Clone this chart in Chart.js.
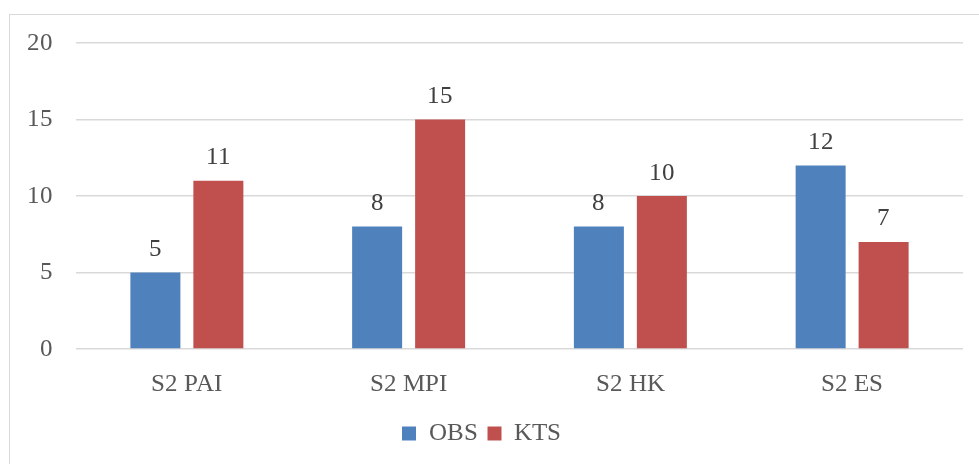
<!DOCTYPE html>
<html><head><meta charset="utf-8">
<style>
@font-face { font-family: 'ChartSerif'; src: local('Liberation Serif'), local('LiberationSerif'), local('Liberation Serif Regular'), local('LiberationSerif-Regular'), local('Times New Roman'); font-weight: 400; font-style: normal; }
html,body{margin:0;padding:0;background:#fff;}
#wrap{position:relative;width:979px;height:464px;}
#frame{position:absolute;left:9px;top:14px;width:990px;height:480px;border:1.5px solid #d9d9d9;box-sizing:border-box;pointer-events:none;}
canvas{position:absolute;left:0;top:0;}
#fontwarm{position:absolute;left:300px;top:20px;font:25px ChartSerif, 'Liberation Serif';color:#fff;}
</style>
<script src="https://cdn.jsdelivr.net/npm/chart.js@4/dist/chart.umd.min.js"></script>
</head>
<body>
<div id="wrap"><div id="fontwarm">S2 PAI OBS KTS 0123456789</div><canvas id="c" width="979" height="464"></canvas><div id="frame"></div></div>
<script>
const categories = ["S2 PAI", "S2 MPI", "S2 HK", "S2 ES"];
const obsValues = [5, 8, 8, 12];
const ktsValues = [11, 15, 10, 7];
const yTicks = [0, 5, 10, 15, 20];

const FONT = "ChartSerif, 'Liberation Serif', serif";
const FS = 25;
Chart.defaults.font.family = FONT;
Chart.defaults.font.size = FS;

const labelPlugin = {
  id: 'barLabels',
  afterDatasetsDraw(chart) {
    const ctx = chart.ctx;
    ctx.save();
    ctx.font = FS + "px " + FONT;
    ctx.fillStyle = "#404040";
    ctx.textAlign = "center";
    ctx.textBaseline = "middle";
    chart.data.datasets.forEach((ds, i) => {
      chart.getDatasetMeta(i).data.forEach((bar, j) => {
        ctx.fillText(String(ds.data[j]), bar.x, bar.y - 23);
      });
    });
    ctx.restore();
  }
};

let chart = null;
function draw() {
  if (chart) { chart.update('none'); return; }
  chart = new Chart(document.getElementById('c'), {
    type: 'bar',
    data: {
      labels: categories,
      datasets: [
        { label: 'OBS', data: obsValues, backgroundColor: '#4F81BD', categoryPercentage: 0.568, barPercentage: 0.794 },
        { label: 'KTS', data: ktsValues, backgroundColor: '#C0504D', categoryPercentage: 0.568, barPercentage: 0.794 }
      ]
    },
    options: {
      responsive: false,
      animation: false,
      devicePixelRatio: 1,
      layout: { padding: { top: 43, right: 16, bottom: 8, left: 0 } },
      scales: {
        x: {
          grid: { display: false },
          border: { display: false },
          ticks: { color: '#595959', font: { family: FONT, size: FS }, padding: 12 },
          afterFit(s) { s.height = 62; }
        },
        y: {
          min: 0, max: 20,
          afterBuildTicks(s) { s.ticks = yTicks.map(v => ({ value: v })); },
          grid: { color: '#d9d9d9', lineWidth: 1.5, drawTicks: false },
          border: { display: false },
          ticks: { color: '#595959', font: { family: FONT, size: FS }, padding: 23 },
          afterFit(s) { s.width = 76; }
        }
      },
      plugins: {
        legend: {
          position: 'bottom',
          labels: { color: '#595959', font: { family: FONT, size: FS }, boxWidth: 14, boxHeight: 14, padding: 10 }
        },
        tooltip: { enabled: false }
      }
    },
    plugins: [labelPlugin]
  });
}
draw();
if (document.fonts && document.fonts.load) {
  document.fonts.load(FS + "px ChartSerif").then(draw, draw);
}
setTimeout(draw, 60);
</script>
</body></html>
